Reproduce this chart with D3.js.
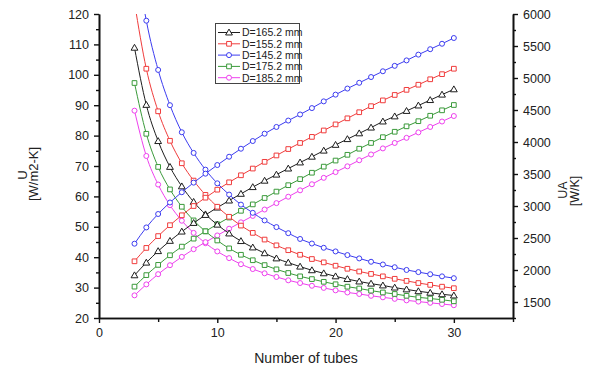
<!DOCTYPE html>
<html><head><meta charset="utf-8">
<script src="https://cdn.jsdelivr.net/npm/d3@7"></script>
<style>
html,body{margin:0;padding:0;background:#fff;}
text{font-family:"Liberation Sans",Arial,sans-serif;fill:#222;}
</style></head>
<body><svg id="c" width="602" height="368"></svg>
<script>
const tubes = [3,4,5,6,7,8,9,10,11,12,13,14,15,16,17,18,19,20,21,22,23,24,25,26,27,28,29,30];

const seriesNames = ["D=165.2 mm","D=155.2 mm","D=145.2 mm","D=175.2 mm","D=185.2 mm"];
const seriesColors = ["#1e1e1e","#f03c3c","#3c3cf0","#3a9a3a","#ee40ee"];
const seriesMarkers = ["triangle","square","circle","square","circle"];

// U [W/m2-K] (left axis), decreasing
const U_165 = [108.9,90.1,78.2,69.7,63.3,58.2,54.1,50.7,47.8,45.3,43.2,41.3,39.6,38.2,36.9,35.7,34.7,33.7,32.8,32.0,31.3,30.7,30.0,29.4,28.8,28.3,27.8,27.4];
const U_155 = [123.8,102.0,88.0,78.3,70.9,65.2,60.5,56.6,53.3,50.4,48.0,45.8,43.9,42.3,40.8,39.4,38.3,37.2,36.2,35.3,34.5,33.7,32.9,32.2,31.5,30.9,30.3,29.8];
const U_145 = [142.0,117.8,101.6,90.0,81.1,74.3,68.8,64.3,60.6,57.3,54.6,52.1,49.9,47.9,46.0,44.5,43.1,41.9,40.7,39.6,38.5,37.6,36.7,35.8,35.1,34.4,33.7,33.1];
const U_175 = [97.3,80.6,69.7,62.3,56.6,52.1,48.5,45.5,42.9,40.8,39.0,37.4,36.0,34.8,33.7,32.8,31.9,31.1,30.3,29.7,29.0,28.4,27.9,27.3,26.8,26.4,26.0,25.5];
const U_185 = [88.2,73.3,63.9,57.1,52.0,48.0,44.6,41.9,39.7,37.7,36.1,34.7,33.5,32.4,31.5,30.6,29.9,29.1,28.4,27.9,27.3,26.8,26.3,25.8,25.4,25.0,24.6,24.2];

// UA [W/K] (right axis), increasing
const UA_165 = [1917,2115,2295,2455,2600,2735,2860,2975,3085,3190,3295,3395,3490,3585,3680,3770,3865,3955,4045,4135,4225,4320,4400,4485,4570,4655,4740,4823];
const UA_155 = [2136,2345,2530,2700,2855,3000,3130,3255,3370,3480,3585,3690,3790,3890,3985,4080,4180,4275,4370,4465,4560,4650,4735,4815,4895,4980,5060,5145];
const UA_145 = [2411,2665,2875,3055,3215,3365,3505,3640,3770,3895,4015,4130,4235,4335,4430,4530,4635,4740,4835,4925,5015,5105,5190,5275,5365,5450,5535,5625];
const UA_175 = [1740,1920,2080,2230,2365,2490,2605,2715,2820,2925,3025,3125,3225,3325,3420,3520,3615,3710,3800,3895,3985,4075,4160,4245,4325,4410,4495,4578];
const UA_185 = [1604,1775,1935,2075,2205,2325,2435,2540,2645,2745,2845,2945,3045,3145,3245,3340,3440,3530,3620,3715,3805,3900,3985,4065,4150,4235,4320,4406];

const xTicks = [0,10,20,30];
const xMinor = [5,15,25,35];
const yLeftTicks = [20,30,40,50,60,70,80,90,100,110,120];
const yRightTicks = [1500,2000,2500,3000,3500,4000,4500,5000,5500,6000];

const Useries = [U_165,U_155,U_145,U_175,U_185];
const UAseries = [UA_165,UA_155,UA_145,UA_175,UA_185];

const svg = d3.select("#c");
const L = 99, R = 513, T = 14, B = 318;

const x = d3.scaleLinear().domain([0,35]).range([L,R]);
const yL = d3.scaleLinear().domain([20,120]).range([B,T]);
const yR = d3.scaleLinear().domain([1250,6000]).range([B,T]);

svg.append("defs").append("clipPath").attr("id","clip")
  .append("rect").attr("x",L).attr("y",T).attr("width",R-L).attr("height",B-T);

const fmt = d3.format("d");
function styleAxis(g){
  g.selectAll("path.domain").attr("stroke","#111").attr("stroke-width",1.6);
  g.selectAll(".tick line").attr("stroke","#111").attr("stroke-width",1.4);
  g.selectAll(".tick text").attr("font-size","12.5px").attr("fill","#333")
    .attr("font-family","Liberation Sans, Arial, sans-serif");
}
// minor ticks
svg.append("g").attr("transform",`translate(0,${B})`)
  .call(d3.axisBottom(x).tickValues(xMinor).tickSize(4).tickSizeOuter(0).tickFormat(""))
  .call(styleAxis);
svg.append("g").attr("transform",`translate(${L},0)`)
  .call(d3.axisLeft(yL).tickValues(d3.range(25,120,10)).tickSize(3).tickSizeOuter(0).tickFormat(""))
  .call(styleAxis);
svg.append("g").attr("transform",`translate(${R},0)`)
  .call(d3.axisRight(yR).tickValues(d3.range(1250,6000,500)).tickSize(3).tickSizeOuter(0).tickFormat(""))
  .call(styleAxis);
// major
svg.append("g").attr("transform",`translate(0,${B})`)
  .call(d3.axisBottom(x).tickValues(xTicks).tickSize(5).tickSizeOuter(0).tickPadding(5).tickFormat(fmt))
  .call(styleAxis);
svg.append("g").attr("transform",`translate(${L},0)`)
  .call(d3.axisLeft(yL).tickValues(yLeftTicks).tickSize(5).tickSizeOuter(0).tickPadding(5).tickFormat(fmt))
  .call(styleAxis);
svg.append("g").attr("transform",`translate(${R},0)`)
  .call(d3.axisRight(yR).tickValues(yRightTicks).tickSize(5).tickSizeOuter(0).tickPadding(5).tickFormat(fmt))
  .call(styleAxis);

// titles
svg.append("text").attr("x",306).attr("y",363).attr("text-anchor","middle")
  .attr("font-size","14px").text("Number of tubes");
svg.append("text").attr("transform","translate(27,175) rotate(-90)").attr("text-anchor","middle")
  .attr("font-size","13px").text("U");
svg.append("text").attr("transform","translate(38,174) rotate(-90)").attr("text-anchor","middle")
  .attr("font-size","13px").text("[W/m2-K]");
svg.append("text").attr("transform","translate(567,190) rotate(-90)").attr("text-anchor","middle")
  .attr("font-size","12.5px").text("UA");
svg.append("text").attr("transform","translate(579,191) rotate(-90)").attr("text-anchor","middle")
  .attr("font-size","12.5px").text("[W/K]");

const plot = svg.append("g").attr("clip-path","url(#clip)");

function drawMarker(g, type, color, cx, cy){
  if(type==="circle"){
    g.append("circle").attr("cx",cx).attr("cy",cy).attr("r",2.5)
      .attr("fill","#fff").attr("stroke",color).attr("stroke-width",1);
  } else {
    const sym = type==="triangle" ? d3.symbolTriangle : d3.symbolSquare;
    const size = type==="triangle" ? 20 : 22;
    g.append("path").attr("d",d3.symbol().type(sym).size(size)())
      .attr("transform",`translate(${cx},${cy + (type==="triangle"?0.5:0)})`)
      .attr("fill","#fff").attr("stroke",color).attr("stroke-width",1);
  }
}

function drawSeries(vals, yScale, i){
  const pts = tubes.map((t,k)=>[x(t), yScale(vals[k])]);
  plot.append("path").attr("d",d3.line().curve(d3.curveMonotoneX)(pts))
    .attr("fill","none").attr("stroke",seriesColors[i]).attr("stroke-width",1);
  const mg = plot.append("g");
  pts.forEach(p=>drawMarker(mg, seriesMarkers[i], seriesColors[i], p[0], p[1]));
}
[4,3,0,1,2].forEach(i=>{
  drawSeries(Useries[i], yL, i);
  drawSeries(UAseries[i], yR, i);
});

// legend
const lg = svg.append("g");
lg.append("rect").attr("x",215.5).attr("y",23.5).attr("width",84).attr("height",60)
  .attr("fill","#fff").attr("stroke","#444").attr("stroke-width",1);
seriesNames.forEach((n,i)=>{
  const yy = 32.5 + i*11.3;
  lg.append("line").attr("x1",218).attr("x2",240).attr("y1",yy).attr("y2",yy)
    .attr("stroke",seriesColors[i]).attr("stroke-width",1);
  drawMarker(lg, seriesMarkers[i], seriesColors[i], 229, yy);
  lg.append("text").attr("x",242).attr("y",yy+3.8).attr("font-size","10.5px").attr("fill","#222").text(n);
});
</script></body></html>
